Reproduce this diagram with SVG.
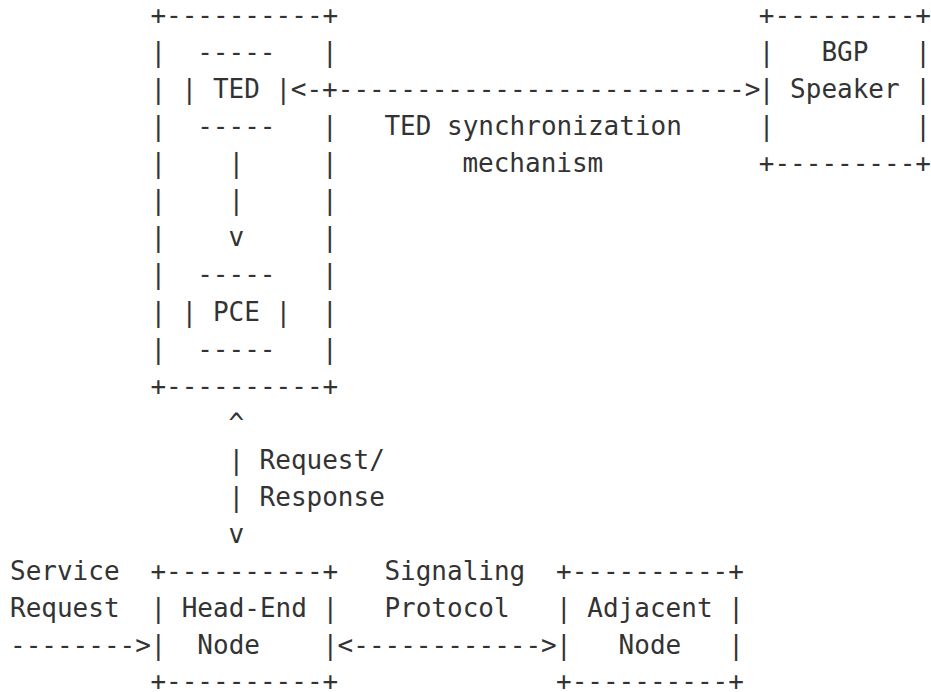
<svg xmlns="http://www.w3.org/2000/svg" width="931" height="692" viewBox="0 0 931 692">
<style>
text{font-family:"DejaVu Sans Mono","Liberation Mono",monospace;font-size:26px;fill:#333;white-space:pre}
</style>
<rect width="931" height="692" fill="#fff"/>
<g id="pce-server">
<text x="150.4" y="24">+----------+</text>
<text x="150.4" y="61.1">|</text><text x="322" y="61.1">|</text>
<text x="150.4" y="98.1">|</text>
<text x="150.4" y="135.2">|</text><text x="322" y="135.2">|</text>
<text x="150.4" y="172.2">|</text><text x="322" y="172.2">|</text>
<text x="150.4" y="209.3">|</text><text x="322" y="209.3">|</text>
<text x="150.4" y="246.4">|</text><text x="322" y="246.4">|</text>
<text x="150.4" y="283.4">|</text><text x="322" y="283.4">|</text>
<text x="150.4" y="320.5">|</text><text x="322" y="320.5">|</text>
<text x="150.4" y="357.5">|</text><text x="322" y="357.5">|</text>
<text x="150.4" y="394.6">+----------+</text>
</g>
<g id="ted">
<text x="197.2" y="61.1">-----</text>
<text x="181.6" y="98.1">| TED |</text>
<text x="197.2" y="135.2">-----</text>
</g>
<g id="pce">
<text x="197.2" y="283.4">-----</text>
<text x="181.6" y="320.5">| PCE |</text>
<text x="197.2" y="357.5">-----</text>
</g>
<g id="bgp-speaker">
<text x="758.8" y="24">+---------+</text>
<text x="758.8" y="61.1">|   BGP   |</text>
<text x="758.8" y="98.1">| Speaker |</text>
<text x="758.8" y="135.2">|         |</text>
<text x="758.8" y="172.2">+---------+</text>
</g>
<g id="head-end-node">
<text x="150.4" y="579.9">+----------+</text>
<text x="150.4" y="617">| Head-End |</text>
<text x="150.4" y="654">|  Node    |</text>
<text x="150.4" y="690">+----------+</text>
</g>
<g id="adjacent-node">
<text x="556" y="579.9">+----------+</text>
<text x="556" y="617">| Adjacent |</text>
<text x="556" y="654">|   Node   |</text>
<text x="556" y="690">+----------+</text>
</g>
<g id="connectors">
<text x="290.8" y="98.1">&lt;-+--------------------------&gt;</text>
<text x="228.4" y="172.2">|</text>
<text x="228.4" y="209.3">|</text>
<text x="228.4" y="246.4">v</text>
<text x="228.4" y="431.7">^</text>
<text x="228.4" y="468.7">|</text>
<text x="228.4" y="505.8">|</text>
<text x="228.4" y="542.8">v</text>
<text x="10" y="654">--------&gt;</text>
<text x="337.6" y="654">&lt;------------&gt;</text>
</g>
<g id="labels">
<text x="384.4" y="135.2">TED synchronization</text>
<text x="462.4" y="172.2">mechanism</text>
<text x="259.6" y="468.7">Request/</text>
<text x="259.6" y="505.8">Response</text>
<text x="10" y="579.9">Service</text>
<text x="10" y="617">Request</text>
<text x="384.4" y="579.9">Signaling</text>
<text x="384.4" y="617">Protocol</text>
</g>
</svg>
